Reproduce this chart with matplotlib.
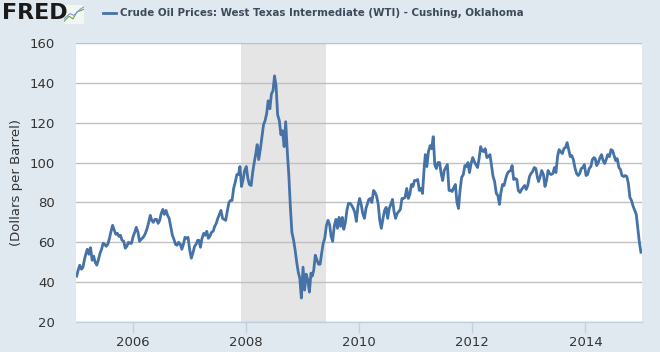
import matplotlib
matplotlib.use("Agg")
import matplotlib.pyplot as plt
import pandas as pd

# ---- data (approx. 3 readings per month) ----
years = list(range(2005, 2015))
days = [5, 15, 25]
wti = {
    2005: [43.0, 46.0, 48.5, 46.5, 47.5, 51.5, 54.0, 56.5, 54.0, 57.3, 51.0, 53.0,
           50.0, 48.5, 51.0, 54.5, 56.5, 59.5, 59.0, 58.0, 59.0, 62.0, 65.5, 68.5,
           66.0, 64.0, 64.5, 63.0, 63.5, 61.0, 60.5, 57.0, 58.0, 60.0, 59.5, 59.5],
    2006: [63.0, 65.0, 67.5, 65.0, 60.5, 61.5, 62.0, 63.0, 64.5, 67.0, 70.0, 73.5,
           71.0, 70.0, 71.5, 71.5, 69.5, 71.0, 74.5, 76.5, 74.0, 76.0, 73.5, 72.0,
           67.5, 63.5, 61.5, 59.0, 58.5, 60.0, 59.0, 56.5, 59.0, 62.5, 62.0, 62.5],
    2007: [56.0, 52.0, 54.5, 58.0, 59.0, 61.0, 61.0, 57.5, 62.0, 64.5, 63.5, 65.5,
           62.0, 63.0, 65.0, 65.5, 68.0, 69.5, 72.0, 74.0, 76.0, 72.0, 71.5, 71.0,
           76.0, 80.0, 81.0, 81.0, 87.0, 90.0, 94.0, 94.0, 98.0, 88.0, 91.5, 96.0],
    2008: [98.0, 92.0, 89.0, 88.5, 95.0, 100.0, 104.0, 109.0, 101.5, 107.0, 113.0, 119.0,
           121.0, 124.5, 131.0, 127.0, 134.5, 136.0, 143.5, 138.5, 124.0, 121.0, 114.0, 116.0,
           108.0, 120.5, 106.0, 94.0, 78.0, 65.0, 61.0, 56.0, 50.0, 45.0, 42.0, 32.0],
    2009: [47.5, 36.0, 44.0, 41.0, 35.0, 44.5, 43.0, 46.0, 53.5, 51.0, 49.0, 49.0,
           54.5, 59.5, 62.0, 68.5, 71.0, 69.0, 63.0, 60.5, 68.0, 71.5, 67.0, 72.5,
           68.0, 72.5, 66.5, 70.0, 76.0, 79.5, 79.5, 78.5, 77.0, 75.0, 70.5, 78.0],
    2010: [82.0, 79.0, 74.5, 72.0, 77.0, 79.5, 81.5, 82.0, 80.0, 86.0, 85.0, 83.0,
           79.0, 71.0, 67.0, 72.0, 76.0, 77.5, 72.0, 77.0, 79.0, 81.5, 75.5, 72.0,
           74.5, 75.5, 76.5, 82.0, 82.0, 82.5, 87.0, 82.0, 84.0, 89.0, 88.0, 91.0],
    2011: [91.0, 91.5, 86.0, 87.0, 84.5, 97.0, 104.0, 98.0, 105.5, 108.5, 107.0, 113.0,
           99.0, 97.0, 100.0, 100.0, 94.5, 91.0, 96.0, 97.5, 99.0, 86.0, 86.0, 85.5,
           87.5, 89.0, 80.0, 77.0, 86.0, 92.5, 94.0, 98.5, 98.0, 100.0, 95.0, 99.5],
    2012: [102.5, 100.5, 99.0, 97.5, 102.0, 108.0, 106.0, 105.5, 107.0, 102.5, 103.0, 104.0,
           98.5, 93.0, 90.5, 84.5, 83.5, 79.0, 85.0, 89.0, 88.5, 92.0, 94.5, 95.5,
           96.0, 98.5, 91.5, 92.0, 91.5, 86.0, 85.0, 86.5, 87.5, 88.5, 86.5, 88.5],
    2013: [93.0, 94.5, 95.5, 97.5, 97.0, 92.5, 90.5, 93.0, 96.0, 94.0, 88.0, 91.0,
           96.0, 94.5, 94.0, 94.5, 97.5, 95.0, 103.0, 106.5, 105.5, 104.5, 107.0, 107.5,
           110.0, 106.5, 103.0, 103.5, 101.5, 97.5, 94.5, 93.5, 94.5, 97.0, 97.5, 99.0],
    2014: [93.5, 94.0, 97.0, 98.0, 101.5, 102.5, 102.0, 98.5, 100.0, 102.5, 104.0, 101.0,
           99.5, 101.5, 104.0, 103.0, 106.5, 106.0, 103.5, 101.0, 102.0, 97.5, 96.5, 93.5,
           93.0, 93.5, 93.0, 89.5, 82.5, 81.0, 78.0, 76.0, 74.0, 67.0, 60.0, 55.0],
}
recession_start = "2007-12-01"
recession_end = "2009-06-01"
yticks = [20, 40, 60, 80, 100, 120, 140, 160]
xtick_years = [2006, 2008, 2010, 2012, 2014]
title = "Crude Oil Prices: West Texas Intermediate (WTI) - Cushing, Oklahoma"
ylabel = "(Dollars per Barrel)"

dates, vals = [], []
for y in years:
    i = 0
    for m in range(1, 13):
        for d in days:
            dates.append(pd.Timestamp(y, m, d))
            vals.append(wti[y][i])
            i += 1

bg = "#E1E9F0"
fig = plt.figure(figsize=(6.6, 3.52), dpi=100, facecolor=bg)
ax = fig.add_axes([76/660, 1-322/352, (642-76)/660, (322-43)/352])
ax.set_facecolor("white")

ax.axvspan(pd.Timestamp(recession_start), pd.Timestamp(recession_end),
           color="#E5E5E5", lw=0, zorder=1)
for yv in yticks:
    ax.axhline(yv, color="#C0C0C0", lw=1, zorder=2)
ax.plot(dates, vals, color="#4572A7", lw=2.0, zorder=3, solid_joinstyle="round")

ax.set_xlim(pd.Timestamp("2005-01-01"), pd.Timestamp("2015-01-01"))
ax.set_ylim(20, 160)
ax.set_yticks(yticks)
ax.set_xticks([pd.Timestamp(y, 1, 1) for y in xtick_years])
ax.set_xticklabels([str(y) for y in xtick_years])
for s in ["left", "right", "top"]:
    ax.spines[s].set_visible(False)
ax.spines["bottom"].set_color("#C0D0E0")
ax.spines["bottom"].set_linewidth(1)
ax.tick_params(axis="y", length=0, pad=15, labelsize=9.5, labelcolor="#333333")
ax.tick_params(axis="x", length=8, width=1, color="#C0D0E0", pad=2,
               labelsize=9.5, labelcolor="#333333")
ax.set_ylabel(ylabel, fontsize=9.5, color="#333333", labelpad=5)

# header
fig.text(2/660, 1-13/352, "FRED", fontsize=16, fontweight="bold",
         color="#1a1a1a", va="center", ha="left", family="DejaVu Sans")
# small logo icon
iax = fig.add_axes([64/660, 1-24/352, 20/660, 19/352])
iax.set_facecolor("#F4F6F4")
iax.set_xticks([]); iax.set_yticks([])
for s in iax.spines.values():
    s.set_visible(False)
iax.plot([0, 0.25, 0.45, 0.65, 1], [0.15, 0.45, 0.3, 0.7, 0.85], color="#6AA84F", lw=0.8)
iax.plot([0, 0.3, 0.5, 0.75, 1], [0.3, 0.6, 0.5, 0.8, 1.0], color="#7C9CC6", lw=0.8)
iax.set_xlim(0, 1); iax.set_ylim(0, 1.1)

fig.lines.append(plt.Line2D([103/660, 116/660], [1-13/352, 1-13/352],
                            transform=fig.transFigure, color="#4572A7", lw=2))
fig.text(120/660, 1-13/352, title, fontsize=7.4, fontweight="bold",
         color="#3D4A5C", va="center", ha="left", family="DejaVu Sans")

fig.savefig("out.png", dpi=100, facecolor=bg)
